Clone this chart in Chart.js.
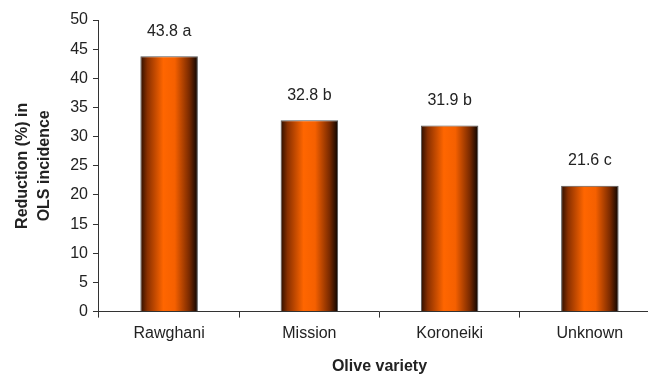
<!DOCTYPE html>
<html>
<head>
<meta charset="utf-8">
<script src="https://cdn.jsdelivr.net/npm/chart.js@4/dist/chart.umd.min.js"></script>
<style>
  html, body { margin: 0; padding: 0; background: #fff; overflow: hidden; }
  #wrap { width: 648px; height: 376px; overflow: hidden; }
  canvas { display: block; }
</style>
</head>
<body>
<div id="wrap"><canvas id="c" width="660" height="376"></canvas></div>
<script>
const varieties = ["Rawghani", "Mission", "Koroneiki", "Unknown"];
const reduction = [43.8, 32.8, 31.9, 21.6];
const groups = ["a", "b", "b", "c"];
const yTicks = [0, 5, 10, 15, 20, 25, 30, 35, 40, 45, 50];

const FONT = "'Liberation Sans', Arial, sans-serif";

// cylinder-like shading across each bar
const barShade = {
  id: "barShade",
  beforeDatasetsDraw(chart) {
    const ctx = chart.ctx;
    chart.getDatasetMeta(0).data.forEach((bar) => {
      const left = bar.x - bar.width / 2;
      const right = bar.x + bar.width / 2;
      const g = ctx.createLinearGradient(left, 0, right, 0);
      g.addColorStop(0, "#2a0e00");
      g.addColorStop(0.12, "#8a3000");
      g.addColorStop(0.4, "#ff6600");
      g.addColorStop(0.6, "#f56000");
      g.addColorStop(0.85, "#7a2a00");
      g.addColorStop(1, "#0a0300");
      bar.options.backgroundColor = g;
    });
  },
};

const valueLabels = {
  id: "valueLabels",
  afterDatasetsDraw(chart) {
    const ctx = chart.ctx;
    ctx.save();
    ctx.font = "16px " + FONT;
    ctx.fillStyle = "#222";
    ctx.textAlign = "center";
    ctx.textBaseline = "middle";
    chart.getDatasetMeta(0).data.forEach((bar, i) => {
      ctx.fillText(reduction[i].toFixed(1) + " " + groups[i], bar.x, bar.y - 25);
    });
    ctx.restore();
  },
};

new Chart(document.getElementById("c"), {
  type: "bar",
  data: {
    labels: varieties,
    datasets: [{
      data: reduction,
      // scriptable so every bar gets its own options object
      backgroundColor: () => "#ff6600",
      borderColor: "#555",
      borderWidth: 1,
      borderSkipped: "bottom",
      barPercentage: 0.41,
      categoryPercentage: 1,
    }],
  },
  options: {
    responsive: false,
    animation: false,
    devicePixelRatio: 1,
    layout: { padding: { top: 20, right: 0, left: 8, bottom: 0 } },
    plugins: {
      legend: { display: false },
      tooltip: { enabled: false },
    },
    scales: {
      x: {
        offset: true,
        grid: { offset: true, drawOnChartArea: false, tickLength: 6, color: "#333" },
        border: { color: "#333", width: 1 },
        ticks: { color: "#222", font: { family: FONT, size: 16 }, padding: 6 },
        title: {
          display: true,
          text: "Olive variety",
          color: "#222",
          font: { family: FONT, size: 16, weight: "bold" },
          padding: { top: 8, bottom: 0 },
        },
      },
      y: {
        min: 0,
        max: 50,
        afterBuildTicks(axis) { axis.ticks = yTicks.map((v) => ({ value: v })); },
        grid: { drawOnChartArea: false, tickLength: 6, color: "#333" },
        border: { color: "#333", width: 1 },
        ticks: { color: "#222", font: { family: FONT, size: 16 }, padding: 5 },
        title: {
          display: true,
          text: ["Reduction (%) in", "OLS incidence"],
          color: "#222",
          font: { family: FONT, size: 16, weight: "bold", lineHeight: 1.35 },
          padding: { top: 4, bottom: 10 },
        },
      },
    },
  },
  plugins: [barShade, valueLabels],
});
</script>
</body>
</html>
